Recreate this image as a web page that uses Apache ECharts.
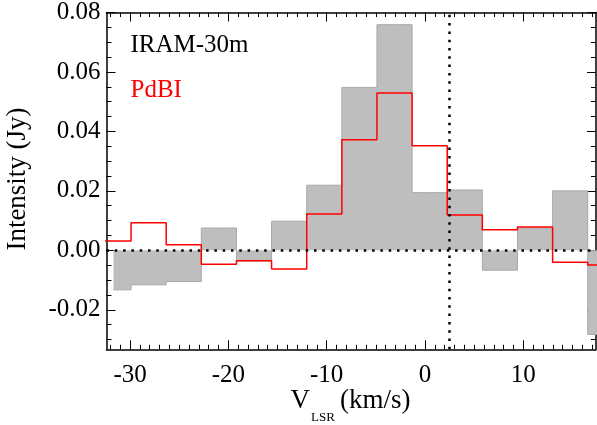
<!DOCTYPE html>
<html><head><meta charset="utf-8">
<script src="https://cdn.jsdelivr.net/npm/echarts@6/dist/echarts.min.js"></script>
<style>html,body{margin:0;padding:0;background:#fff}#c{width:597px;height:425px}</style>
</head><body><div id="c"></div>
<script>
// Channel centres (km/s)
const velocity = [-31.69, -28.11, -24.54, -20.97, -17.39, -13.82, -10.24, -6.67, -3.10, 0.48, 4.05, 7.62, 11.20, 14.77, 18.35];
// IRAM-30m spectrum (Jy)
const iramValues = [-0.0133, -0.0116, -0.0105, 0.0075, -0.0036, 0.0098, 0.0219, 0.0548, 0.0759, 0.0194, 0.0203, -0.0067, 0.0075, 0.0200, -0.0283];
// PdBI spectrum (Jy), one extra channel on the left
const pdbiVelocity = [-35.26, -31.69, -28.11, -24.54, -20.97, -17.39, -13.82, -10.24, -6.67, -3.10, 0.48, 4.05, 7.62, 11.20, 14.77, 18.35];
const pdbiValues = [0.0031, 0.0031, 0.0093, 0.0019, -0.0047, -0.0035, -0.0063, 0.0122, 0.0372, 0.0529, 0.0352, 0.0119, 0.0069, 0.0078, -0.0040, -0.0049];
const systemicVelocity = 2.5;
// Tick labels
const xMajorTicks = [-30, -20, -10, 0, 10];
const xMinorTicks = [-32,-31,-30,-29,-28,-27,-26,-25,-24,-23,-22,-21,-20,-19,-18,-17,-16,-15,-14,-13,-12,-11,-10,-9,-8,-7,-6,-5,-4,-3,-2,-1,0,1,2,3,4,5,6,7,8,9,10,11,12,13,14,15,16,17];
const yMajorTicks = [-0.02, 0.00, 0.02, 0.04, 0.06, 0.08];
const yMinorTicks = [-0.03,-0.025,-0.02,-0.015,-0.01,-0.005,0,0.005,0.01,0.015,0.02,0.025,0.03,0.035,0.04,0.045,0.05,0.055,0.06,0.065,0.07,0.075,0.08];

const FONT = 'Liberation Serif';
const X_MIN = -32.4, X_MAX = 17.4, Y_MIN = -0.0333, Y_MAX = 0.08;

function xAx(pos, ticks, len, line, labels) {
  return {
    type: 'value', position: pos, min: X_MIN, max: X_MAX,
    axisLine: { show: line, onZero: false, lineStyle: { color: '#000', width: 1.5 } },
    axisTick: { show: true, inside: true, length: len, customValues: ticks, lineStyle: { color: '#000', width: 1 } },
    axisLabel: labels ? { show: true, customValues: ticks, margin: 14, color: '#000', fontFamily: FONT, fontSize: 25,
      formatter: v => String(Math.round(v)) } : { show: false },
    splitLine: { show: false }
  };
}
function yAx(pos, ticks, len, line, labels) {
  return {
    type: 'value', position: pos, min: Y_MIN, max: Y_MAX,
    axisLine: { show: line, onZero: false, lineStyle: { color: '#000', width: 1.5 } },
    axisTick: { show: true, inside: true, length: len, customValues: ticks, lineStyle: { color: '#000', width: 1 } },
    axisLabel: labels ? { show: true, customValues: ticks, margin: 6, color: '#000', fontFamily: FONT, fontSize: 25,
      formatter: v => (Math.abs(v) < 1e-9 ? 0 : v).toFixed(2) } : { show: false },
    splitLine: { show: false }
  };
}

const chart = echarts.init(document.getElementById('c'), null, { renderer: 'canvas' });
chart.setOption({
  animation: false,
  backgroundColor: '#fff',
  grid: { left: 106.5, right: 1, top: 9.3, bottom: 75.7, containLabel: false },
  xAxis: [
    xAx('bottom', xMajorTicks, 9, true, true),
    xAx('bottom', xMinorTicks, 4.5, false, false),
    xAx('top', xMajorTicks, 9, true, false),
    xAx('top', xMinorTicks, 4.5, false, false)
  ],
  yAxis: [
    yAx('left', yMajorTicks, 9, true, true),
    yAx('left', yMinorTicks, 5, false, false),
    yAx('right', yMajorTicks, 9, true, false),
    yAx('right', yMinorTicks, 5, false, false)
  ],
  series: [
    {
      name: 'IRAM-30m', type: 'line', step: 'middle', xAxisIndex: 0, yAxisIndex: 0,
      data: velocity.map((v, i) => [v, iramValues[i]]),
      symbol: 'none', z: 2,
      lineStyle: { color: '#a8a8a8', width: 1 },
      areaStyle: { color: '#bebebe', opacity: 1, origin: 0 }
    },
    {
      name: 'PdBI', type: 'line', step: 'middle', xAxisIndex: 0, yAxisIndex: 0,
      data: pdbiVelocity.map((v, i) => [v, pdbiValues[i]]),
      symbol: 'none', z: 3,
      lineStyle: { color: '#ff0000', width: 1.5 }
    },
    {
      name: 'ref', type: 'line', xAxisIndex: 0, yAxisIndex: 0, data: [], z: 4,
      markLine: {
        silent: true, symbol: ['none', 'none'], label: { show: false },
        lineStyle: { color: '#000', type: [2.5, 5.8], width: 2.5 },
        data: [{ xAxis: systemicVelocity }, { yAxis: 0 }]
      }
    }
  ],
  graphic: [
    { type: 'text', left: 130.5, top: 33, style: { text: 'IRAM-30m', fill: '#000', font: '25px "Liberation Serif"' } },
    { type: 'text', left: 130.5, top: 78, style: { text: 'PdBI', fill: '#ff0000', font: '25px "Liberation Serif"' } },
    { type: 'text', x: 18, y: 179, rotation: Math.PI / 2, style: { text: 'Intensity (Jy)', fill: '#000', font: '27px "Liberation Serif"', align: 'center', verticalAlign: 'middle' } },
    { type: 'text', x: 310, y: 401, style: { text: 'V', fill: '#000', font: '27px "Liberation Serif"', align: 'right', verticalAlign: 'middle' } },
    { type: 'text', x: 311, y: 418, style: { text: 'LSR', fill: '#000', font: '13px "Liberation Serif"', align: 'left', verticalAlign: 'middle' } },
    { type: 'text', x: 340, y: 401, style: { text: '(km/s)', fill: '#000', font: '27px "Liberation Serif"', align: 'left', verticalAlign: 'middle' } }
  ]
});
</script></body></html>
